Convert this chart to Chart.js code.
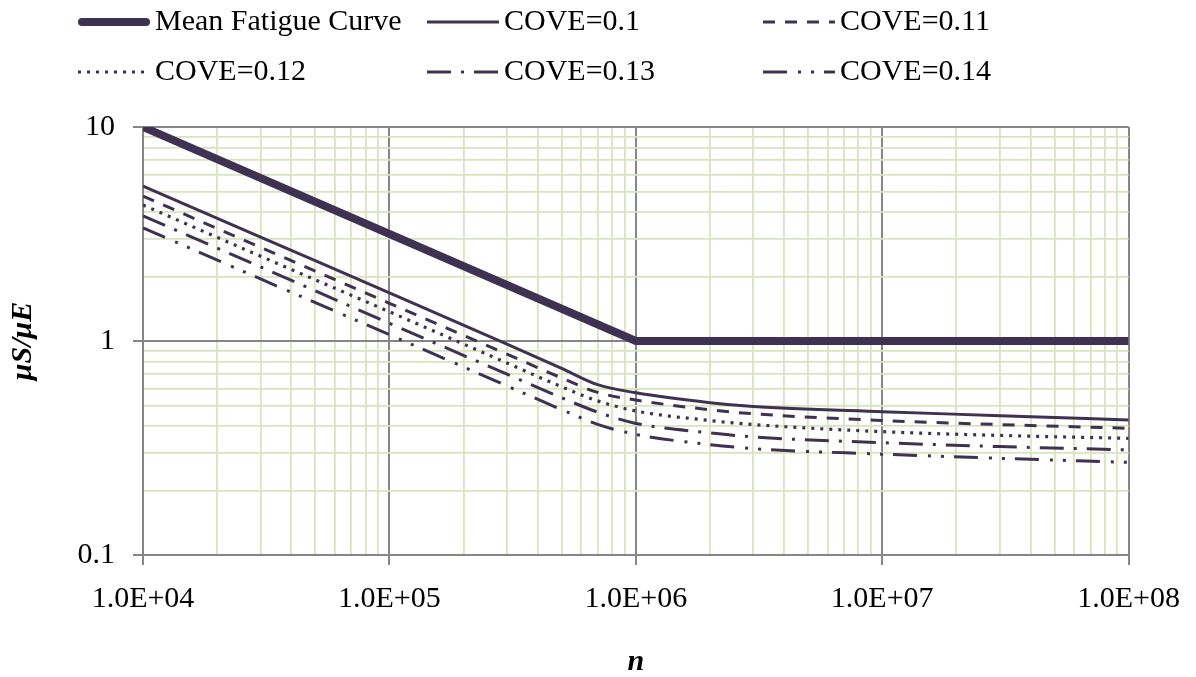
<!DOCTYPE html>
<html>
<head>
<meta charset="utf-8">
<script src="https://cdn.jsdelivr.net/npm/chart.js@4.4.1/dist/chart.umd.min.js"></script>
<style>
  body { margin: 0; background: #fff; }
  #wrap { width: 1196px; height: 677px; position: relative; }
</style>
</head>
<body>
<div id="wrap"><canvas id="fatigueChart"></canvas></div>
<script>
// Số chu kỳ n và tỉ số μS/μE đọc từ đồ thị
const meanN = [1e4, 1e6, 1e8];
const meanS = [10, 1, 1];

const coveN = [1e4, 3e4, 1e5, 3e5, 5e5, 7e5, 1e6, 2e6, 3e6, 1e7, 3e7, 1e8];
const cove010 = [5.30, 3.06, 1.68, 0.968, 0.745, 0.625, 0.573, 0.515, 0.494, 0.467, 0.448, 0.427];
const cove011 = [4.75, 2.74, 1.50, 0.868, 0.672, 0.575, 0.530, 0.477, 0.457, 0.425, 0.407, 0.391];
const cove012 = [4.32, 2.49, 1.37, 0.789, 0.611, 0.525, 0.471, 0.425, 0.407, 0.377, 0.362, 0.351];
const cove013 = [3.84, 2.22, 1.21, 0.700, 0.543, 0.465, 0.412, 0.372, 0.356, 0.335, 0.321, 0.310];
const cove014 = [3.38, 1.95, 1.07, 0.617, 0.478, 0.408, 0.366, 0.328, 0.314, 0.296, 0.283, 0.271];

const seriesLabels = ["Mean Fatigue Curve", "COVE=0.1", "COVE=0.11", "COVE=0.12", "COVE=0.13", "COVE=0.14"];

const lineColor = "#3F3151";
const majorGrid = "#868686";
const minorGrid = "#d7e4bd";
const fontFamily = "'Liberation Serif', serif";

const toPoints = (xs, ys) => xs.map((x, i) => ({ x: x, y: ys[i] }));

const isMajor = (v) => Math.abs(Math.log10(v) - Math.round(Math.log10(v))) < 1e-9;

// tick 1..9 x 10^e cho trục log
function logTicks(eMin, eMax) {
  const out = [];
  for (let e = eMin; e <= eMax; e++) {
    for (let m = 1; m <= 9; m++) {
      if (e === eMax && m > 1) break;
      out.push({ value: m * Math.pow(10, e) });
    }
  }
  return out;
}

function expLabel(v) {
  const e = Math.round(Math.log10(v));
  return "1.0E" + (e < 0 ? "-" : "+") + String(Math.abs(e)).padStart(2, "0");
}

// legend 2 hàng x 3 cột giống Excel
const rowLegend = {
  id: "rowLegend",
  afterDraw(chart) {
    const ctx = chart.ctx;
    const cols = [78, 427, 763];
    const rows = [22, 72];
    chart.data.datasets.forEach((ds, i) => {
      const x = cols[i % 3];
      const y = rows[Math.floor(i / 3)];
      ctx.save();
      ctx.strokeStyle = ds.borderColor;
      ctx.lineWidth = ds.borderWidth;
      ctx.setLineDash(ds.borderDash || []);
      ctx.beginPath();
      if (i === 0) {
        ctx.lineCap = "round";
        ctx.moveTo(x + 4, y);
        ctx.lineTo(x + 68, y);
      } else {
        ctx.moveTo(x, y);
        ctx.lineTo(x + 72, y);
      }
      ctx.stroke();
      ctx.setLineDash([]);
      ctx.fillStyle = "#000";
      ctx.font = "normal 30px " + fontFamily;
      ctx.textBaseline = "middle";
      ctx.textAlign = "left";
      ctx.fillText(ds.label, x + 77, y);
      ctx.restore();
    });
  }
};

const gridOpts = {
  color: (c) => (c.tick && isMajor(c.tick.value) ? majorGrid : minorGrid),
  lineWidth: (c) => (c.tick && isMajor(c.tick.value) ? 2 : 1.8),
  tickColor: (c) => (c.tick && isMajor(c.tick.value) ? majorGrid : "rgba(0,0,0,0)"),
  tickLength: 10,
  tickWidth: 2
};

const ctx = document.getElementById("fatigueChart").getContext("2d");
new Chart(ctx, {
  type: "line",
  data: {
    datasets: [
      { label: seriesLabels[0], data: toPoints(meanN, meanS), borderColor: lineColor, borderWidth: 8, tension: 0, cubicInterpolationMode: "default" },
      { label: seriesLabels[1], data: toPoints(coveN, cove010), borderColor: lineColor, borderWidth: 3 },
      { label: seriesLabels[2], data: toPoints(coveN, cove011), borderColor: lineColor, borderWidth: 3, borderDash: [12, 10] },
      { label: seriesLabels[3], data: toPoints(coveN, cove012), borderColor: lineColor, borderWidth: 3.2, borderDash: [3, 6] },
      { label: seriesLabels[4], data: toPoints(coveN, cove013), borderColor: lineColor, borderWidth: 3, borderDash: [24, 10, 3, 10] },
      { label: seriesLabels[5], data: toPoints(coveN, cove014), borderColor: lineColor, borderWidth: 3, borderDash: [24, 11, 3, 10, 3, 10] }
    ]
  },
  options: {
    responsive: true,
    maintainAspectRatio: false,
    animation: false,
    layout: { padding: { top: 127, right: 64, left: 0, bottom: 0 } },
    elements: {
      point: { radius: 0 },
      line: { cubicInterpolationMode: "monotone", fill: false }
    },
    plugins: {
      legend: { display: false },
      tooltip: { enabled: false }
    },
    scales: {
      x: {
        type: "logarithmic",
        min: 1e4,
        max: 1e8,
        afterBuildTicks: (s) => { s.ticks = logTicks(4, 8); },
        afterFit: (s) => { s.height = 122; },
        grid: gridOpts,
        border: { color: majorGrid, width: 2 },
        ticks: {
          callback: (v) => (isMajor(v) ? expLabel(v) : ""),
          autoSkip: false,
          maxRotation: 0,
          padding: 16,
          color: "#000",
          font: { family: fontFamily, size: 30 }
        },
        title: {
          display: true,
          text: "n",
          color: "#000",
          padding: { top: 0, bottom: -3 },
          font: { family: fontFamily, size: 30, style: "italic", weight: "bold" }
        }
      },
      y: {
        type: "logarithmic",
        min: 0.1,
        max: 10,
        afterBuildTicks: (s) => { s.ticks = logTicks(-1, 1); },
        afterFit: (s) => { s.width = 143; },
        grid: gridOpts,
        border: { color: majorGrid, width: 2 },
        ticks: {
          callback: (v) => (isMajor(v) ? String(Number(v.toPrecision(1))) : ""),
          autoSkip: false,
          padding: 18,
          color: "#000",
          font: { family: fontFamily, size: 30 }
        },
        title: {
          display: true,
          text: "μS/μE",
          color: "#000",
          padding: { top: 5, bottom: 0 },
          font: { family: fontFamily, size: 30, style: "italic", weight: "bold" }
        }
      }
    }
  },
  plugins: [rowLegend]
});
</script>
</body>
</html>
